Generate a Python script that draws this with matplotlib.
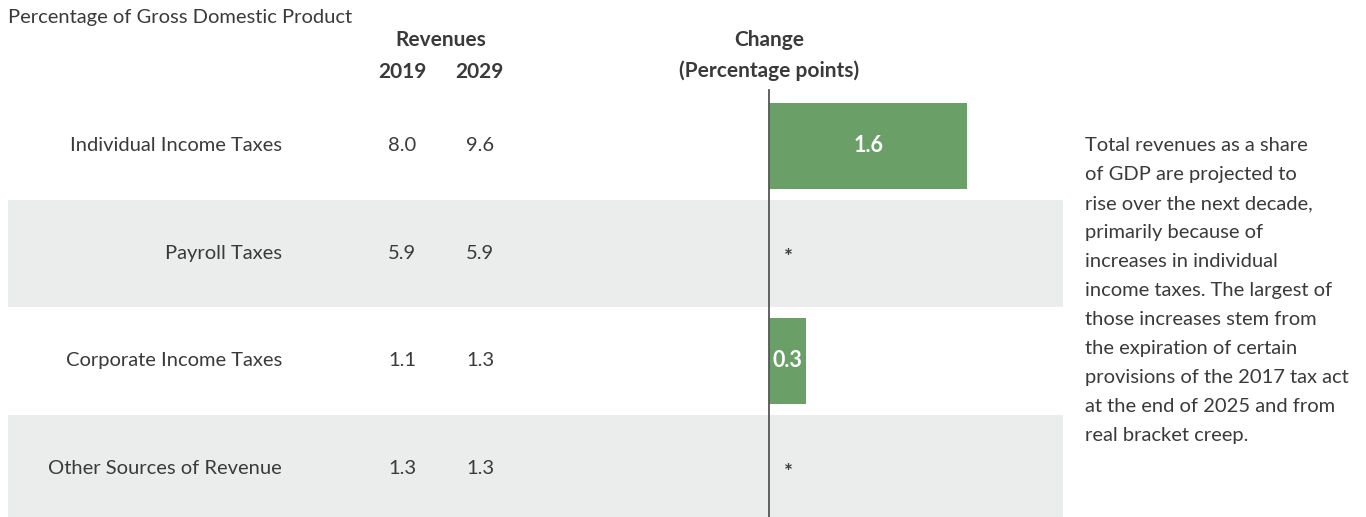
import matplotlib
matplotlib.use("Agg")
import matplotlib.pyplot as plt
from matplotlib.transforms import blended_transform_factory

categories = ["Individual Income Taxes", "Payroll Taxes", "Corporate Income Taxes", "Other Sources of Revenue"]
rev_2019 = [8.0, 5.9, 1.1, 1.3]
rev_2029 = [9.6, 5.9, 1.3, 1.3]
change = [1.6, 0.0, 0.3, 0.0]
change_labels = ["1.6", "*", "0.3", "*"]
note = ("Total revenues as a share\nof GDP are projected to\nrise over the next decade,\n"
        "primarily because of\nincreases in individual\nincome taxes. The largest of\n"
        "those increases stem from\nthe expiration of certain\nprovisions of the 2017 tax act\n"
        "at the end of 2025 and from\nreal bracket creep.")

plt.rcParams['font.family'] = ['Lato', 'DejaVu Sans']
W, H = 1366, 517
fig = plt.figure(figsize=(W / 100, H / 100), dpi=100)
TXT = "#3a3a3a"
GREEN = "#6aa068"
BAND = "#ebeded"

# axes: pixel x 8..1063, pixel y 92..522
top_px, bot_px = 92, 522
ax = fig.add_axes([8 / W, (H - bot_px) / H, (1063 - 8) / W, (bot_px - top_px) / H])
zero_px, ppu = 769, 124.0
ax.set_xlim((8 - zero_px) / ppu, (1063 - zero_px) / ppu)
ax.set_ylim(len(categories) - 0.5, -0.5)
ax.axis("off")

for i in range(len(categories)):
    if i % 2 == 1:
        ax.axhspan(i - 0.5, i + 0.5, color=BAND, lw=0, zorder=0)

bars = ax.barh(range(len(categories)), change, height=0.80, color=GREEN, zorder=2)
ax.axvline(0, color="#555555", lw=1.3, zorder=3, ymin=0, ymax=1.005, clip_on=False)

for i, (b, v, lab) in enumerate(zip(bars, change, change_labels)):
    if v > 0:
        ax.text(v / 2, i, lab, ha="center", va="center", color="white",
                fontsize=15.5, fontweight="bold", zorder=4)
    else:
        ax.text(19 / ppu, i + 0.04, lab, ha="center", va="center", color=TXT,
                fontsize=15, fontweight="bold", zorder=4)

tr = blended_transform_factory(fig.transFigure, ax.transData)
for i, cat in enumerate(categories):
    ax.text(282 / W, i, cat, transform=tr, ha="right", va="center", color=TXT, fontsize=14.5)
    ax.text(402 / W, i, f"{rev_2019[i]:.1f}", transform=tr, ha="center", va="center", color=TXT, fontsize=14.5)
    ax.text(480 / W, i, f"{rev_2029[i]:.1f}", transform=tr, ha="center", va="center", color=TXT, fontsize=14.5)

def ftext(xp, yp, s, **kw):
    fig.text(xp / W, 1 - yp / H, s, color=TXT, **kw)

ftext(8, 17, "Percentage of Gross Domestic Product", ha="left", va="center", fontsize=14.5)
ftext(441, 40, "Revenues", ha="center", va="center", fontsize=15, fontweight="bold")
ftext(402, 72, "2019", ha="center", va="center", fontsize=15, fontweight="bold")
ftext(479, 72, "2029", ha="center", va="center", fontsize=15, fontweight="bold")
ftext(769, 40, "Change", ha="center", va="center", fontsize=15, fontweight="bold")
ftext(769, 71, "(Percentage points)", ha="center", va="center", fontsize=15, fontweight="bold")
ftext(1085, 137, note, ha="left", va="top", fontsize=14.5, linespacing=1.86)

fig.savefig("out.png", dpi=100)
